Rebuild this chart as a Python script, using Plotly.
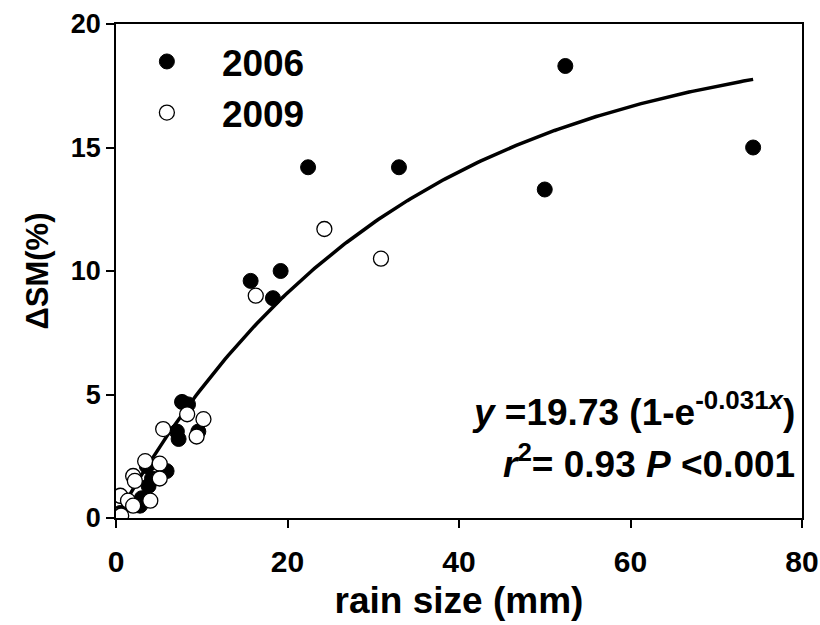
import numpy as np
import plotly.graph_objects as go

# 2006 (filled)
x2006 = [0.5, 2.8, 3.0, 3.8, 4.2, 3.6, 5.9, 7.1, 7.3, 9.6, 7.7, 8.4,
         15.7, 18.3, 19.2, 22.4, 33.0, 50.0, 52.4, 74.3]
y2006 = [0.2, 0.5, 0.8, 1.3, 1.6, 2.1, 1.9, 3.5, 3.2, 3.5, 4.7, 4.6,
         9.6, 8.9, 10.0, 14.2, 14.2, 13.3, 18.3, 15.0]
# 2009 (open)
x2009 = [0.0, 0.3, 0.6, 0.5, 1.4, 2.0, 4.0, 2.0, 2.2, 3.4, 5.1, 5.1,
         5.5, 8.3, 9.4, 10.2, 16.3, 24.3, 30.9]
y2009 = [0.1, 0.05, 0.1, 0.9, 0.7, 0.5, 0.7, 1.7, 1.5, 2.3, 2.2, 1.6,
         3.6, 4.2, 3.3, 4.0, 9.0, 11.7, 10.5]

fit_a = 19.73
fit_b = 0.031
fit_x = np.linspace(0, 74.3, 200)
fit_y = fit_a * (1 - np.exp(-fit_b * fit_x))

xticks = [0, 20, 40, 60, 80]
yticks = [0, 5, 10, 15, 20]

FONT = "Liberation Sans, Arial, sans-serif"

fig = go.Figure()
fig.add_trace(go.Scatter(x=fit_x, y=fit_y, mode="lines",
                         line=dict(color="black", width=3.5),
                         showlegend=False, hoverinfo="skip"))
fig.add_trace(go.Scatter(x=x2006, y=y2006, mode="markers", name="<b>2006</b>",
                         legendgroup="a",
                         marker=dict(symbol="circle", size=15, color="black",
                                     line=dict(color="black", width=1))))
fig.add_trace(go.Scatter(x=x2009, y=y2009, mode="markers", name="<b>2009</b>",
                         legendgroup="b",
                         marker=dict(symbol="circle", size=15, color="white",
                                     line=dict(color="black", width=1.3))))

fig.update_layout(
    width=820, height=625,
    margin=dict(l=116, r=18, t=24, b=107, autoexpand=False),
    plot_bgcolor="white", paper_bgcolor="white",
    font=dict(family=FONT, color="black"),
    showlegend=True,
    legend=dict(x=-0.006, y=0.986, xanchor="left", yanchor="top",
                font=dict(size=37, family=FONT, color="black"),
                itemsizing="trace", tracegroupgap=0,
                bgcolor="rgba(0,0,0,0)", itemwidth=100),
    xaxis=dict(range=[0, 80], tickvals=xticks, ticktext=[f"<b>{v}</b>" for v in xticks],
               showgrid=False, zeroline=False, showline=True, linecolor="black",
               linewidth=1.5, mirror=True, ticks="outside", ticklen=8, tickwidth=1.5,
               tickcolor="black", tickfont=dict(size=30, family=FONT),
               ticklabelstandoff=8, automargin=False,
               title=dict(text="<b>rain size (mm)</b>", font=dict(size=37, family=FONT),
                          standoff=10)),
    yaxis=dict(range=[0, 20], tickvals=yticks, ticktext=[f"<b>{v}</b>" for v in yticks],
               showgrid=False, zeroline=False, showline=True, linecolor="black",
               linewidth=1.5, mirror=True, ticks="outside", ticklen=8, tickwidth=1.5,
               tickcolor="black", tickfont=dict(size=27, family=FONT),
               automargin=False,
               title=dict(text="<b>ΔSM(%)</b>", font=dict(size=31, family=FONT),
                          standoff=13)),
)

fig.add_annotation(xref="paper", yref="paper", x=0.993, y=0.22, xanchor="right",
                   yanchor="middle", showarrow=False, align="left",
                   text="<b><i>y</i> =19.73 (1-e<sup>-0.031<i>x</i></sup>)</b>",
                   font=dict(size=37, family=FONT, color="black"))
fig.add_annotation(xref="paper", yref="paper", x=0.993, y=0.115, xanchor="right",
                   yanchor="middle", showarrow=False, align="left",
                   text="<b><i>r</i><sup>2</sup>= 0.93 <i>P</i> <0.001</b>",
                   font=dict(size=37, family=FONT, color="black"))

fig.write_html("out.html")
